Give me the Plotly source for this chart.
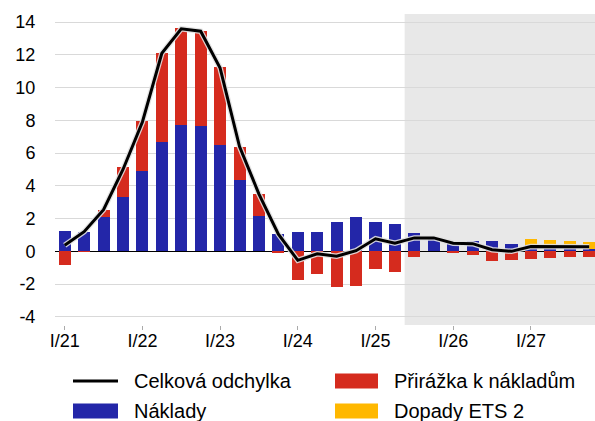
import plotly.graph_objects as go

# quarters I/21 .. IV/27
quarters = list(range(28))
tick_pos = [0, 4, 8, 12, 16, 20, 24]
tick_labels = ["I/21", "I/22", "I/23", "I/24", "I/25", "I/26", "I/27"]
y_ticks = [-4, -2, 0, 2, 4, 6, 8, 10, 12, 14]
y_tick_labels = ["-4", "-2", "0", "2", "4", "6", "8", "10", "12", "14"]

naklady = [1.26, 1.2, 2.08, 3.34, 4.92, 6.69, 7.73, 7.67, 6.47, 4.37, 2.18, 1.08,
           1.2, 1.2, 1.81, 2.12, 1.81, 1.69, 1.14, 0.82, 0.53, 0.65, 0.65, 0.47,
           0.37, 0.35, 0.3, 0.16]
prirazka = [-0.81, -0.03, 0.46, 1.79, 3.05, 5.45, 5.9, 5.8, 4.8, 2.02, 1.34, -0.1,
            -1.77, -1.36, -2.15, -2.09, -1.06, -1.24, -0.32, 0.0, -0.08, -0.2, -0.57, -0.55,
            -0.46, -0.4, -0.34, -0.32]
ets2 = [0] * 24 + [0.4, 0.36, 0.35, 0.43]
celkem = [0.37, 1.2, 2.54, 5.0, 7.9, 12.1, 13.6, 13.45, 11.2, 6.4, 3.5, 1.05,
          -0.55, -0.15, -0.3, 0.04, 0.77, 0.5, 0.82, 0.82, 0.5, 0.47, 0.1, 0.0,
          0.29, 0.28, 0.28, 0.28]

forecast_start = 17.5

BLUE = "#2326a8"
RED = "#d52b1e"
YELLOW = "#ffb800"
FONT = "Liberation Sans, Arial, sans-serif"

W, H = 595, 421
L, R, T, B = 55, 0, 14, 96

fig = go.Figure()
fig.add_trace(go.Bar(x=quarters, y=naklady, marker_color=BLUE, width=0.62,
                     marker_line_width=0, showlegend=False))
fig.add_trace(go.Bar(x=quarters, y=prirazka, marker_color=RED, width=0.62,
                     marker_line_width=0, showlegend=False))
fig.add_trace(go.Bar(x=quarters, y=ets2, marker_color=YELLOW, width=0.62,
                     marker_line_width=0, showlegend=False))
# light halo under the line
fig.add_trace(go.Scatter(x=quarters, y=celkem, mode="lines",
                         line=dict(color="rgba(225,225,225,0.9)", width=5.5),
                         showlegend=False, hoverinfo="skip"))
fig.add_trace(go.Scatter(x=quarters, y=celkem, mode="lines",
                         line=dict(color="black", width=3), showlegend=False))

# forecast shading
fig.add_shape(type="rect", xref="x", yref="paper", x0=forecast_start, x1=28,
              y0=0, y1=1, fillcolor="#e8e8e8", line_width=0, layer="below")


def px(x):
    return (x - L) / (W - L - R)


def py(y):
    return (H - B - y) / (H - T - B)


# manual legend
legend_items = [
    ("line", "black", "Celková odchylka", 73, 118, 381),
    ("rect", BLUE, "Náklady", 73, 118, 411),
    ("rect", RED, "Přirážka k nákladům", 335, 378, 381),
    ("rect", YELLOW, "Dopady ETS 2", 335, 378, 411),
]
for kind, color, label, x0, x1, yc in legend_items:
    if kind == "line":
        fig.add_shape(type="line", xref="paper", yref="paper",
                      x0=px(x0), x1=px(x1), y0=py(yc), y1=py(yc),
                      line=dict(color=color, width=3))
    else:
        fig.add_shape(type="rect", xref="paper", yref="paper",
                      x0=px(x0), x1=px(x1), y0=py(yc - 7.5), y1=py(yc + 7.5),
                      fillcolor=color, line_width=0)
    fig.add_annotation(text=label, xref="paper", yref="paper",
                       x=px(x1 + 14), y=py(yc), xanchor="left", yanchor="middle",
                       showarrow=False, font=dict(size=20, color="black", family=FONT))

fig.update_layout(
    width=W, height=H,
    margin=dict(l=L, r=R, t=T, b=B, autoexpand=False),
    barmode="relative",
    bargap=0,
    plot_bgcolor="white",
    paper_bgcolor="white",
    font=dict(family=FONT, size=18, color="black"),
    showlegend=False,
)
fig.update_xaxes(
    range=[-0.5, 27.3],
    tickvals=tick_pos, ticktext=tick_labels,
    showgrid=False, zeroline=False, showline=False,
    ticks="outside", ticklen=4, tickcolor="#aaaaaa", tickwidth=1,
    ticklabelstandoff=-5,
    tickfont=dict(size=18), automargin=False,
)
fig.update_yaxes(
    range=[-4.5, 14.5],
    tickvals=y_ticks, ticktext=y_tick_labels,
    showgrid=True, gridcolor="#d9d9d9", gridwidth=1,
    zeroline=True, zerolinecolor="black", zerolinewidth=1,
    showline=False,
    ticks="outside", ticklen=15, tickcolor="rgba(0,0,0,0)",
    tickfont=dict(size=18), automargin=False,
)

fig.write_html("out.html", config={"displayModeBar": False},
               post_script="document.body.style.margin='0';")
